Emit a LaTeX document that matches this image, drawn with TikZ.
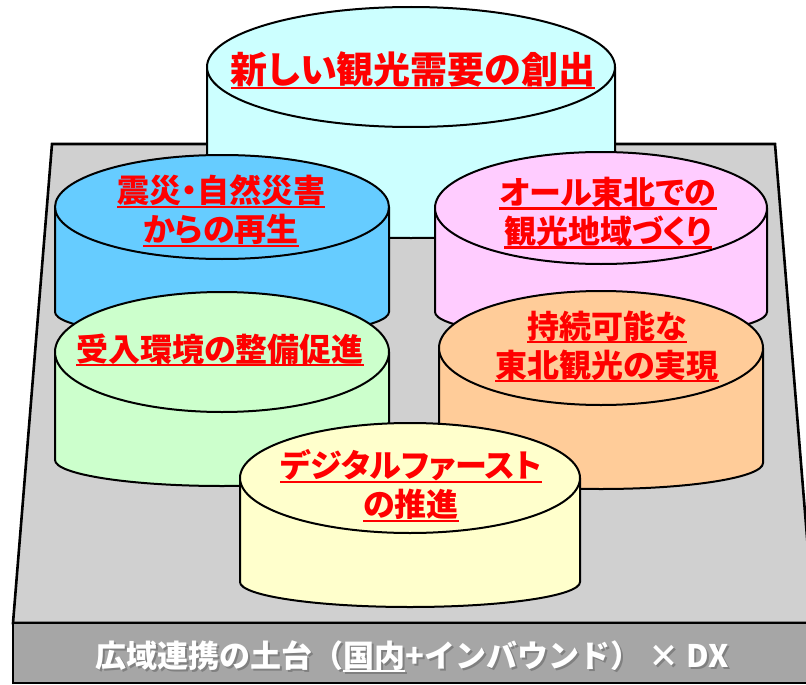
\documentclass[tikz,border=0pt]{standalone}
\usepackage{fontspec}
\newfontfamily\jp{Noto Sans CJK JP}[RawFeature=+palt]
\newfontfamily\jpfull{Noto Sans CJK JP}
\newsavebox\ulbox
\newcommand\ult[1]{\sbox\ulbox{#1}\rlap{\rule[-0.16em]{\wd\ulbox}{0.075em}}\usebox\ulbox}
\newcommand\shadowtext[1]{\rlap{\hspace{2pt}\raisebox{-2pt}{\color{black!50}#1}}{\color{white}#1}}
\definecolor{cyanc}{HTML}{CCFFFF}
\definecolor{bluec}{HTML}{66CCFF}
\definecolor{pinkc}{HTML}{FFCCFF}
\definecolor{greenc}{HTML}{CCFFCC}
\definecolor{orangec}{HTML}{FFCC99}
\definecolor{yellowc}{HTML}{FFFFCC}
\definecolor{platc}{HTML}{D0D0D0}
\definecolor{frontc}{HTML}{A6A6A6}
\definecolor{redt}{HTML}{FF0000}
% #1 cx, #2 cy, #3 rx, #4 ry, #5 h, #6 bottom ry, #7 colour
\newcommand\cylinder[7]{%
  \path[cylline,fill=#7] ({#1-#3},#2) -- ({#1-#3},{#2+#5})
     arc[start angle=180,end angle=0,x radius=#3,y radius=#6]
     -- ({#1+#3},#2) -- cycle;
  \path[cylline,fill=#7] (#1,#2) ellipse [x radius=#3,y radius=#4];
}
\begin{document}
\begin{tikzpicture}[x=1pt,y=-1pt,
  cylline/.style={draw=black,line width=2pt,line join=round},
  platline/.style={draw=black,line width=2.6pt,line join=miter},
  lbl/.style={text=redt,font=\jp\bfseries\fontsize{32}{39}\selectfont,align=center,inner sep=0pt},
  toplbl/.style={lbl,font=\jp\bfseries\fontsize{37}{42}\selectfont},
  foot/.style={text=white,font=\jpfull\bfseries\fontsize{31}{36}\selectfont,inner sep=0pt,anchor=base}]
\useasboundingbox (0,0) rectangle (806,685);
\clip (0,0) rectangle (806,685);
% platform
\path[platline,fill=platc] (52,144) -- (775,144) -- (814,623) -- (13,623) -- cycle;
\path[platline,fill=frontc] (13,623) rectangle (814,683);
% cylinders, back to front
\cylinder{411}{67}{204}{60}{144}{27}{cyanc}
\cylinder{222}{207}{167}{52}{105}{26}{bluec}
\cylinder{601}{208}{166}{56}{104}{26}{pinkc}
\cylinder{222}{352}{167}{60}{108}{26}{greenc}
\cylinder{601}{348}{162}{57}{115}{26}{orangec}
\cylinder{410}{478}{170}{55}{104}{25}{yellowc}
% labels
\node[toplbl] (tnew) at (413,70.5) {\ult{新しい観光需要の創出}};
\node[lbl] (tdis) at (221,211) {\ult{震災・自然災害}\\\ult{からの再生}};
\node[lbl] (tall) at (608,213) {\ult{オール東北での}\\\ult{観光地域づくり}};
\node[lbl] (tacc) at (220,350) {\ult{受入環境の整備促進}};
\node[lbl] (tsus) at (607,346.5) {\ult{持続可能な}\\\ult{東北観光の実現}};
\node[lbl] (tdx) at (411,486) {\ult{デジタルファースト}\\\ult{の推進}};
% footer with shadow
\node[foot] (ftext) at (412,667) {\shadowtext{広域連携の土台（\ult{国内}+インバウンド） × DX}};
\end{tikzpicture}
\end{document}
